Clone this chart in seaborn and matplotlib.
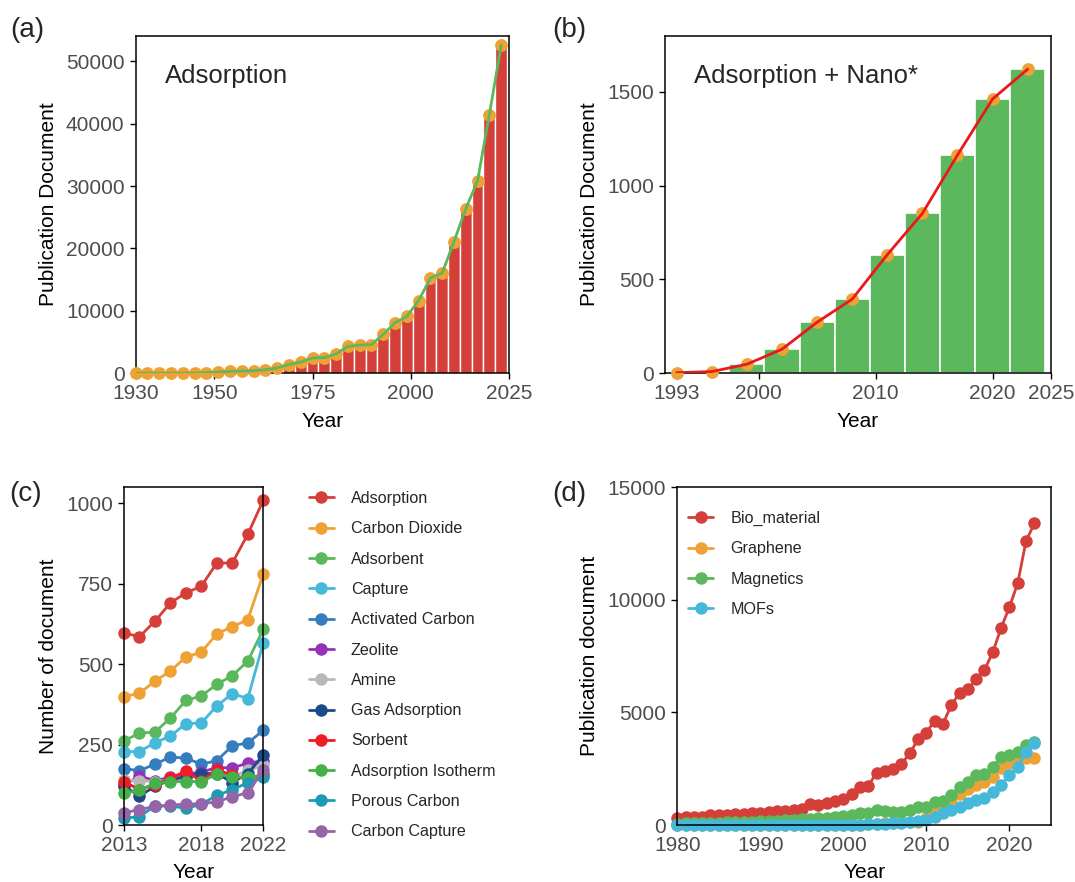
import matplotlib
matplotlib.use('Agg')
import pandas as pd
import seaborn as sns
import matplotlib.pyplot as plt
from matplotlib.lines import Line2D

# ---- data ----
a_years = list(range(1930, 2024, 3))
a_vals = [0, 0, 0, 0, 10, 20, 100, 200, 300, 350, 400, 550, 850, 1400, 1800, 2450,
          2500, 3100, 4300, 4500, 4600, 6250, 8100, 9100, 11650, 15250, 16050, 21100,
          26350, 30850, 41450, 52550]

b_years = list(range(1993, 2024, 3))
b_vals = [3, 9, 48, 128, 272, 395, 632, 852, 1163, 1462, 1621]

c_years = list(range(2013, 2023))
c_terms = ['Adsorption', 'Carbon Dioxide', 'Adsorbent', 'Capture', 'Activated Carbon',
           'Zeolite', 'Amine', 'Gas Adsorption', 'Sorbent', 'Adsorption Isotherm',
           'Porous Carbon', 'Carbon Capture']
c_vals = [
    [597, 585, 633, 690, 721, 742, 814, 814, 903, 1009],
    [399, 409, 447, 478, 522, 537, 594, 616, 638, 780],
    [262, 285, 289, 332, 387, 401, 437, 464, 509, 608],
    [228, 228, 256, 276, 315, 317, 370, 408, 393, 566],
    [175, 169, 189, 211, 208, 189, 200, 246, 255, 294],
    [124, 152, 138, 148, 158, 165, 178, 178, 192, 200],
    [140, 138, 135, 140, 150, 155, 165, 150, 170, 185],
    [122, 90, 120, 140, 150, 160, 160, 132, 160, 216],
    [135, 110, 125, 145, 168, 136, 172, 155, 142, 158],
    [98, 109, 129, 135, 135, 135, 158, 150, 148, 155],
    [21, 26, 59, 59, 52, 64, 93, 109, 132, 148],
    [38, 48, 58, 62, 65, 66, 72, 88, 100, 170],
]
c_colors = ['#D43F3A', '#EEA236', '#5CB85C', '#46B8DA', '#357EBD', '#9632B8',
            '#B8B8B8', '#1A4A8A', '#EE1C25', '#46B04A', '#1F9AB5', '#9565A8']

d_years = list(range(1980, 2024))
d_terms = ['Bio_material', 'Graphene', 'Magnetics', 'MOFs']
bio = [300, 341, 341, 370, 444, 444, 444, 474, 474, 519, 519, 593, 622, 622, 667, 696,
       933, 889, 963, 1067, 1141, 1378, 1674, 1733, 2326, 2415, 2504, 2711, 3185, 3807,
       4104, 4637, 4489, 5333, 5852, 6030, 6474, 6889, 7674, 8756, 9674, 10741, 12607, 13393]
graphene = [5] * 15 + [10] * 5 + [10, 15, 20, 40, 60, 80, 100, 120, 140, 150,
                                  300, 550, 800, 1150, 1400, 1600, 1780, 1930, 2150, 2550,
                                  2750, 2850, 2980, 2990]
magnetics = [60, 70, 80, 90, 100, 110, 120, 130, 140, 150,
             170, 185, 200, 220, 240, 260, 280, 300, 330, 350,
             380, 440, 520, 550, 650, 620, 570, 570, 667, 815,
             815, 1022, 1081, 1333, 1704, 1896, 2222, 2267, 2593, 3007,
             3111, 3259, 3556, 3704]
mofs = [2] * 20 + [10, 15, 20, 30, 40, 55, 70, 90, 120, 160,
                   230, 370, 518, 667, 815, 963, 1111, 1185, 1481, 1778,
                   2222, 2593, 3259, 3630]
d_colors = ['#D43F3A', '#EEA236', '#5CB85C', '#46B8DA']

RED, ORANGE, GREEN, BRED = '#D43F3A', '#EEA236', '#5CB85C', '#E8191C'

sns.set_theme(style='ticks')
plt.rcParams['font.family'] = ['Liberation Sans', 'DejaVu Sans']

fig = plt.figure(figsize=(10.75, 8.82), dpi=100)
ax_a = fig.add_axes([0.1262, 0.5768, 0.3473, 0.3828])
ax_b = fig.add_axes([0.6186, 0.5768, 0.3591, 0.3828])
ax_c = fig.add_axes([0.1153, 0.0646, 0.1296, 0.3836])
ax_d = fig.add_axes([0.6300, 0.0646, 0.3476, 0.3829])


def style(ax, xlabel, ylabel):
    for s in ax.spines.values():
        s.set_visible(True)
        s.set_color('black')
        s.set_linewidth(1.1)
    ax.tick_params(length=4.5, width=1, color='black', labelsize=15,
                   labelcolor='#4D4D4D', pad=3.5)
    ax.set_xlabel(xlabel, fontsize=15, color='black', labelpad=6)
    ax.set_ylabel(ylabel, fontsize=15, color='black', labelpad=6)


# (a)
sns.barplot(x=a_years, y=a_vals, native_scale=True, color=RED, saturation=1,
            width=1, edgecolor='white', linewidth=1, errorbar=None, ax=ax_a)
sns.scatterplot(x=a_years, y=a_vals, color=ORANGE, s=85, linewidth=0,
                zorder=3, clip_on=False, ax=ax_a)
sns.lineplot(x=a_years, y=a_vals, color=GREEN, linewidth=2, zorder=4, ax=ax_a)
ax_a.set_xlim(1930, 2025)
ax_a.set_ylim(0, 54100)
ax_a.set_xticks([1930, 1950, 1975, 2000, 2025])
ax_a.set_yticks(range(0, 50001, 10000))
ax_a.text(0.0785, 0.879, 'Adsorption', transform=ax_a.transAxes,
          fontsize=18.5, va='center')
style(ax_a, 'Year', 'Publication Document')

# (b)
sns.barplot(x=b_years, y=b_vals, native_scale=True, color=GREEN, saturation=1,
            width=1, edgecolor='white', linewidth=1.2, errorbar=None, ax=ax_b)
sns.scatterplot(x=b_years, y=b_vals, color=ORANGE, s=85, linewidth=0,
                zorder=3, clip_on=False, ax=ax_b)
sns.lineplot(x=b_years, y=b_vals, color=BRED, linewidth=2, zorder=4, ax=ax_b)
ax_b.set_xlim(1992, 2025)
ax_b.set_ylim(0, 1800)
ax_b.set_xticks([1993, 2000, 2010, 2020, 2025])
ax_b.set_yticks([0, 500, 1000, 1500])
ax_b.text(0.075, 0.879, 'Adsorption + Nano*', transform=ax_b.transAxes,
          fontsize=18.5, va='center')
style(ax_b, 'Year', 'Publication Document')

# (c)
c_df = pd.DataFrame([(t, y, v) for t, vals in zip(c_terms, c_vals)
                     for y, v in zip(c_years, vals)], columns=['Term', 'Year', 'Count'])
sns.lineplot(data=c_df, x='Year', y='Count', hue='Term', hue_order=c_terms,
             palette=c_colors, marker='o', markersize=9, markeredgewidth=0,
             linewidth=2, clip_on=False, legend=False, ax=ax_c)
ax_c.set_xlim(2013, 2022)
ax_c.set_ylim(0, 1051)
ax_c.set_xticks([2013, 2018, 2022])
ax_c.set_yticks([0, 250, 500, 750, 1000])
style(ax_c, 'Year', 'Number of document')
c_handles = [Line2D([], [], color=c, marker='o', markersize=9, markeredgewidth=0,
                    linewidth=2) for c in c_colors]
fig.legend(c_handles, c_terms, loc='upper left',
           bbox_to_anchor=(309 / 1075, 1 - 491 / 882), frameon=False,
           fontsize=11.6, handlelength=1.55, handletextpad=1.05, labelspacing=0.95,
           borderpad=0, borderaxespad=0)

# (d)
d_df = pd.DataFrame([(t, y, v) for t, vals in zip(d_terms, [bio, graphene, magnetics, mofs])
                     for y, v in zip(d_years, vals)], columns=['Term', 'Year', 'Count'])
sns.lineplot(data=d_df, x='Year', y='Count', hue='Term', hue_order=d_terms,
             palette=d_colors, marker='o', markersize=9, markeredgewidth=0,
             linewidth=2, clip_on=False, legend=False, ax=ax_d)
ax_d.set_xlim(1980, 2025)
ax_d.set_ylim(0, 15000)
ax_d.set_xticks([1980, 1990, 2000, 2010, 2020])
ax_d.set_yticks([0, 5000, 10000, 15000])
style(ax_d, 'Year', 'Publication document')
d_handles = [Line2D([], [], color=c, marker='o', markersize=9, markeredgewidth=0,
                    linewidth=2) for c in d_colors]
ax_d.legend(d_handles, d_terms, loc='upper left',
            bbox_to_anchor=(0.03, 0.93), frameon=False,
            fontsize=11.6, handlelength=1.55, handletextpad=1.05, labelspacing=0.95,
            borderpad=0, borderaxespad=0)

# panel letters
for lbl, x, y in [('(a)', 0.010, 0.966), ('(b)', 0.514, 0.966),
                  ('(c)', 0.009, 0.440), ('(d)', 0.514, 0.440)]:
    fig.text(x, y, lbl, fontsize=20, va='center')

fig.savefig('out.png', dpi=100)
